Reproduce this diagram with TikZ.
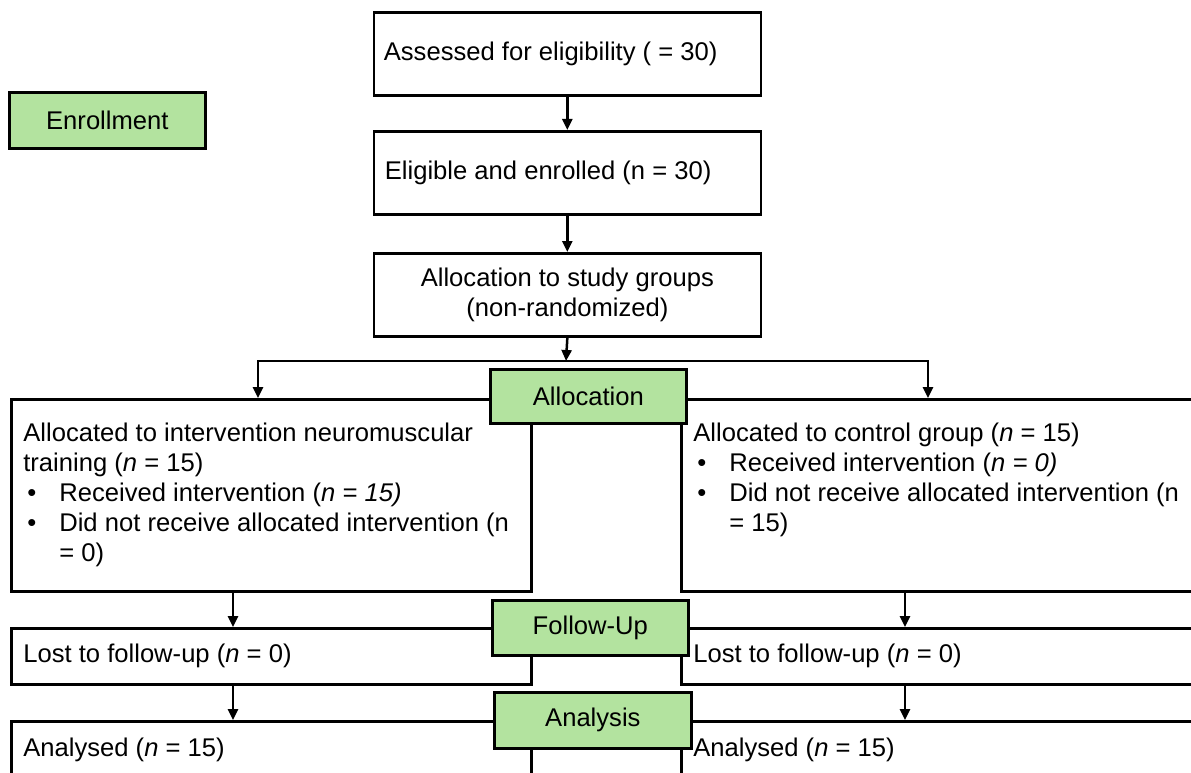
\documentclass[tikz,border=0pt]{standalone}
\usepackage{fontspec}
\setmainfont{Liberation Sans}
\usetikzlibrary{arrows.meta}
\definecolor{phasegreen}{RGB}{179,227,159}
\tikzset{
  wbox/.style={draw=black, line width=2.7pt, fill=white, rectangle, inner sep=0pt, anchor=north west},
  gbox/.style={draw=black, line width=2.7pt, fill=phasegreen, rectangle, inner sep=0pt, anchor=north west, align=center},
  arr/.style={line width=2.5pt, -{Triangle[length=11pt,width=10pt]}},
  arr2/.style={line width=2.5pt, {Triangle[length=11pt,width=10pt]}-{Triangle[length=11pt,width=10pt]}, line join=miter},
}
\newcommand{\bitem}{\makebox[36pt][l]{\hspace{4pt}•}}
\newcommand{\bindent}{\hspace*{36pt}}
\begin{document}
\begin{tikzpicture}[x=1pt,y=-1pt,font=\fontsize{25.6}{30}\selectfont]
\useasboundingbox (0,0) rectangle (1191,773);
\clip (0,0) rectangle (1191,773);
\fill[white] (0,0) rectangle (1191,773);
% top column
\node[wbox, minimum width=387pt, minimum height=83pt] (b1) at (372.5,11)
  {\parbox[c][83pt][c]{387pt}{\hspace*{10pt}Assessed for eligibility ( = 30)}};
\node[wbox, minimum width=387pt, minimum height=83pt] (b2) at (372.5,130)
  {\parbox[c][83pt][c]{387pt}{\hspace*{11pt}Eligible and enrolled (n = 30)}};
\node[wbox, minimum width=387pt, minimum height=83pt, align=center] (b3) at (372.5,252)
  {Allocation to study groups\\(non-randomized)};
% group boxes
\node[wbox, minimum width=520pt, minimum height=192pt] (L1) at (10,398)
  {\parbox[c][150pt][t]{496pt}{\strut Allocated to intervention neuromuscular\\
   training (\textit{n} = 15)\\
   \bitem Received intervention (\textit{n = 15)}\\
   \bitem Did not receive allocated intervention (n\\
   \bindent = 0)}};
\node[wbox, minimum width=560pt, minimum height=192pt] (R1) at (680,398)
  {\parbox[c][150pt][t]{536pt}{\strut Allocated to control group (\textit{n} = 15)\\
   \bitem Received intervention (\textit{n = 0)}\\
   \bitem Did not receive allocated intervention (n\\
   \bindent = 15)}};
\node[wbox, minimum width=520pt, minimum height=56pt] (L2) at (10,627)
  {\parbox[c][56pt][c]{496pt}{Lost to follow-up (\textit{n} = 0)}};
\node[wbox, minimum width=560pt, minimum height=56pt] (R2) at (680,627)
  {\parbox[c][56pt][c]{536pt}{Lost to follow-up (\textit{n} = 0)}};
\node[wbox, minimum width=520pt, minimum height=58pt] (L3) at (10,720)
  {\parbox[c][56pt][c]{496pt}{Analysed (\textit{n} = 15)}};
\node[wbox, minimum width=560pt, minimum height=58pt] (R3) at (680,720)
  {\parbox[c][56pt][c]{536pt}{Analysed (\textit{n} = 15)}};
% phase labels
\node[gbox, minimum width=196pt, minimum height=56pt] (enr) at (8,91) {Enrollment};
\node[gbox, minimum width=196pt, minimum height=54pt] (alc) at (489,368) {Allocation};
\node[gbox, minimum width=196pt, minimum height=55pt] (fol) at (491,599) {Follow-Up};
\node[gbox, minimum width=197pt, minimum height=56pt] (ana) at (493,691) {Analysis};
% connectors
\coordinate (jc) at (566,361);
\coordinate (jl) at (258,361);
\coordinate (jr) at (928,361);
\coordinate (xl) at (233,0);
\coordinate (xr) at (905,0);
\draw[arr] (b1.south) -- (b2.north);
\draw[arr] (b2.south) -- (b3.north);
\draw[arr] (b3.south) -- (jc);
\draw[arr2] (jl |- L1.north) |- (jr) -- (jr |- R1.north);
\draw[arr] (L1.south -| xl) -- (L2.north -| xl);
\draw[arr] (L2.south -| xl) -- (L3.north -| xl);
\draw[arr] (R1.south -| xr) -- (R2.north -| xr);
\draw[arr] (R2.south -| xr) -- (R3.north -| xr);
\end{tikzpicture}
\end{document}
